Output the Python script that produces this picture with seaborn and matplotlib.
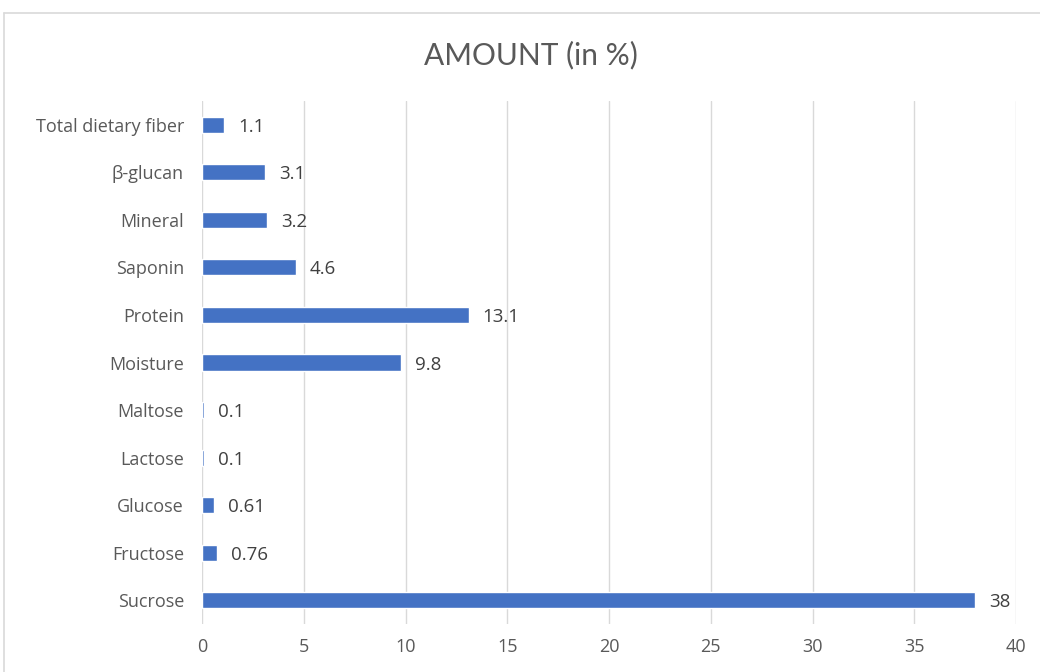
import matplotlib
matplotlib.use("Agg")
import matplotlib.pyplot as plt
import seaborn as sns
import pandas as pd
from matplotlib.lines import Line2D

categories = ["Total dietary fiber", "β-glucan", "Mineral", "Saponin", "Protein",
              "Moisture", "Maltose", "Lactose", "Glucose", "Fructose", "Sucrose"]
values = [1.1, 3.1, 3.2, 4.6, 13.1, 9.8, 0.1, 0.1, 0.61, 0.76, 38]
value_labels = ["1.1", "3.1", "3.2", "4.6", "13.1", "9.8", "0.1", "0.1", "0.61", "0.76", "38"]
x_ticks = [0, 5, 10, 15, 20, 25, 30, 35, 40]
title = "AMOUNT (in %)"

sns.set_theme(style="white")
plt.rcParams["font.family"] = ["Open Sans", "DejaVu Sans"]

df = pd.DataFrame({"category": categories, "value": values})

fig = plt.figure(figsize=(10.4, 6.72), dpi=100)
ax = fig.add_axes([202/1040, 1-624/672, (1016-202)/1040, (624-101)/672])

sns.barplot(data=df, y="category", x="value", order=categories, orient="h",
            color="#4472C4", saturation=1, width=0.34, ax=ax)

ax.set_xlim(0, 40)
ax.set_xticks(x_ticks)
ax.set_xticklabels([str(t) for t in x_ticks])
ax.set_xlabel("")
ax.set_ylabel("")
ax.xaxis.grid(True, color="#D9D9D9", linewidth=1)
ax.set_axisbelow(True)
for s in ax.spines.values():
    s.set_visible(False)
ax.tick_params(axis="both", length=0, colors="#595959", labelsize=13)
ax.tick_params(axis="x", pad=10)
ax.tick_params(axis="y", pad=13)

for patch, lab in zip(ax.patches, value_labels):
    w = patch.get_width()
    yc = patch.get_y() + patch.get_height() / 2
    ax.annotate(lab, xy=(w, yc), xytext=(10, -1.5), textcoords="offset points",
                ha="left", va="center", fontsize=13.5, color="#404040")

fig.text(531/1040, 1-55/672, title, ha="center", va="center",
         fontsize=21.5, color="#595959", family=["Lato", "DejaVu Sans"])

# chart area border
fig.add_artist(Line2D([4/1040, 1.0], [1-13/672, 1-13/672], transform=fig.transFigure,
                      color="#D9D9D9", linewidth=1.2))
fig.add_artist(Line2D([4/1040, 4/1040], [0, 1-13/672], transform=fig.transFigure,
                      color="#D9D9D9", linewidth=1.2))

fig.savefig("out.png", dpi=100, facecolor="white")
